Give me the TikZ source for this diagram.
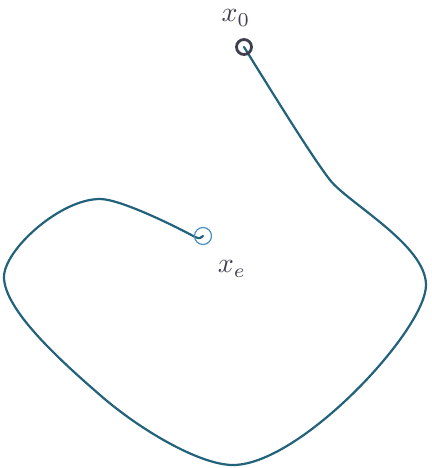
\documentclass[tikz,border=0pt]{standalone}
\newcommand{\biglab}[1]{\scalebox{2.8}{$#1$}}
\begin{document}
\begin{tikzpicture}[x=1pt,y=-1pt,
  traj/.style={draw=curvecol,line width=2.2pt,line cap=round,line join=round},
  startpt/.style={circle,draw=labelcol,line width=2.8pt,minimum size=15pt,inner sep=0pt},
  endpt/.style={circle,draw=endcol,line width=1.2pt,minimum size=17pt,inner sep=0pt},
  lab/.style={text=labelcol,inner sep=0pt}]
\definecolor{curvecol}{HTML}{22627A}
\definecolor{labelcol}{HTML}{3E3F4F}
\definecolor{endcol}{HTML}{4A90C0}
\useasboundingbox (0,0) rectangle (431,468);
\coordinate (s) at (244,47);
\coordinate (e) at (203,236);
\draw[traj] (s) .. controls (272,92) and (312,157) .. (330,180)
  .. controls (348,203) and (426,245) .. (426,285)
  .. controls (426,330) and (300,465) .. (233,465)
  .. controls (200,465) and (140,430) .. (100,395)
  .. controls (62,362) and (4,310) .. (4,277)
  .. controls (4,250) and (60,199) .. (100,199)
  .. controls (120,199) and (175,226) .. (195,237)
  .. controls (199,239) and (202,238) .. (e);
\node[startpt] (x0pt) at (s) {};
\node[endpt] (xept) at (e) {};
\node[lab] (x0) at (236,18) {\biglab{x_0}};
\node[lab] (xe) at (232,269) {\biglab{x_e}};
\end{tikzpicture}
\end{document}
